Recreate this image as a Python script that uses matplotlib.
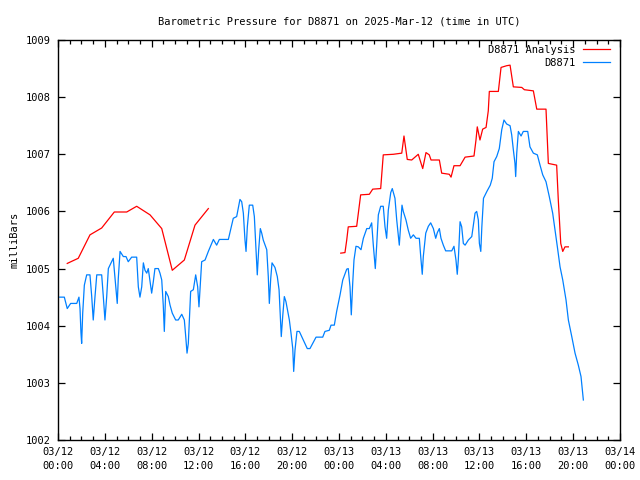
import matplotlib
matplotlib.use("Agg")
import matplotlib.pyplot as plt
from matplotlib.ticker import MultipleLocator

# hours since 2025-03-12 00:00 UTC, pressure in millibars
analysis_hours_1 = [0.79, 1.31, 1.73, 2.73, 3.73, 4.81, 5.87, 6.72, 7.86, 8.86,
                    9.76, 10.79, 11.70, 12.84]
analysis_mb_1 = [1005.09, 1005.14, 1005.18, 1005.59, 1005.71, 1005.99, 1005.99,
                 1006.09, 1005.94, 1005.70, 1004.97, 1005.15, 1005.76, 1006.05]

analysis_hours_2 = [24.15, 24.51, 24.66, 24.79, 25.51, 25.85, 26.59, 26.88, 27.56,
                    27.78, 28.64, 29.36, 29.55, 29.83, 30.21, 30.77, 30.92, 31.15,
                    31.43, 31.71, 31.86, 32.57, 32.77, 33.42, 33.57, 33.82, 34.34,
                    34.77, 35.53, 35.70, 35.81, 36.04, 36.27, 36.56, 36.75, 36.84,
                    37.61, 37.84, 38.32, 38.61, 38.89, 39.61, 39.83, 40.60, 40.89,
                    41.68, 41.88, 42.59, 42.73, 42.94, 43.11, 43.30, 43.59]
analysis_mb_2 = [1005.27, 1005.28, 1005.50, 1005.73, 1005.74, 1006.29, 1006.30,
                 1006.39, 1006.40, 1006.99, 1007.00, 1007.02, 1007.32, 1006.91,
                 1006.90, 1007.00, 1006.90, 1006.75, 1007.03, 1006.99, 1006.90,
                 1006.90, 1006.67, 1006.65, 1006.60, 1006.80, 1006.80, 1006.95,
                 1006.97, 1007.25, 1007.48, 1007.25, 1007.44, 1007.47, 1007.76,
                 1008.10, 1008.10, 1008.52, 1008.55, 1008.56, 1008.18, 1008.17,
                 1008.13, 1008.11, 1007.79, 1007.79, 1006.84, 1006.81, 1006.20,
                 1005.44, 1005.30, 1005.38, 1005.38]

station_hours = [0.15, 0.54, 0.79, 1.08, 1.60, 1.79, 1.88, 1.96, 2.02, 2.11, 2.25,
                 2.45, 2.73, 2.88, 3.01, 3.16, 3.31, 3.73, 3.87, 4.01, 4.16, 4.30,
                 4.44, 4.72, 4.87, 5.06, 5.15, 5.30, 5.58, 5.81, 6.00, 6.29, 6.72,
                 6.86, 7.00, 7.15, 7.29, 7.43, 7.58, 7.71, 7.86, 8.00, 8.14, 8.28,
                 8.57, 8.71, 8.86, 8.99, 9.08, 9.20, 9.42, 9.57, 9.76, 10.05, 10.27,
                 10.57, 10.79, 10.91, 11.02, 11.13, 11.21, 11.33, 11.56, 11.76,
                 11.93, 12.04, 12.27, 12.56, 12.84, 13.27, 13.55, 13.78, 14.55,
                 14.97, 15.26, 15.54, 15.69, 15.83, 15.97, 16.06, 16.17, 16.34,
                 16.63, 16.77, 16.91, 17.02, 17.14, 17.28, 17.40, 17.53, 17.83,
                 17.96, 18.05, 18.17, 18.28, 18.53, 18.73, 18.88, 18.96, 19.07,
                 19.19, 19.33, 19.47, 19.62, 19.76, 19.90, 20.05, 20.13, 20.24,
                 20.41, 20.61, 20.95, 21.29, 21.52, 22.04, 22.61, 22.80, 23.17,
                 23.32, 23.60, 23.80, 24.09, 24.32, 24.66, 24.79, 24.94, 25.05,
                 25.17, 25.28, 25.45, 25.65, 25.88, 26.08, 26.37, 26.59, 26.79,
                 26.93, 27.10, 27.22, 27.36, 27.56, 27.78, 27.93, 28.07, 28.21,
                 28.42, 28.55, 28.78, 28.93, 29.07, 29.15, 29.27, 29.38, 29.49,
                 29.72, 29.92, 30.12, 30.35, 30.58, 30.86, 30.98, 31.11, 31.20,
                 31.41, 31.63, 31.83, 32.06, 32.26, 32.40, 32.57, 32.71, 32.91,
                 33.11, 33.63, 33.82, 33.99, 34.10, 34.19, 34.34, 34.48, 34.62,
                 34.77, 35.05, 35.34, 35.62, 35.76, 35.90, 35.99, 36.11, 36.20,
                 36.34, 36.63, 36.92, 37.09, 37.24, 37.47, 37.69, 37.90, 38.09,
                 38.32, 38.61, 38.75, 38.89, 39.03, 39.09, 39.18, 39.32, 39.55,
                 39.74, 40.12, 40.31, 40.60, 40.94, 41.17, 41.40, 41.68, 41.96,
                 42.25, 42.45, 42.65, 42.88, 43.11, 43.39, 43.59, 43.88, 44.16,
                 44.44, 44.67, 44.87]
station_mb = [1004.50, 1004.50, 1004.30, 1004.39, 1004.39, 1004.50, 1004.30, 1003.88,
              1003.69, 1004.22, 1004.71, 1004.89, 1004.89, 1004.51, 1004.10, 1004.51,
              1004.89, 1004.89, 1004.51, 1004.10, 1004.51, 1005.00, 1005.06, 1005.18,
              1004.83, 1004.39, 1004.83, 1005.30, 1005.21, 1005.21, 1005.12, 1005.20,
              1005.20, 1004.68, 1004.50, 1004.68, 1005.10, 1004.97, 1004.92, 1005.00,
              1004.77, 1004.57, 1004.77, 1005.00, 1005.00, 1004.92, 1004.80, 1004.36,
              1003.90, 1004.60, 1004.51, 1004.36, 1004.22, 1004.10, 1004.10, 1004.20,
              1004.10, 1003.81, 1003.52, 1003.69, 1004.04, 1004.60, 1004.63, 1004.89,
              1004.68, 1004.33, 1005.12, 1005.15, 1005.30, 1005.51, 1005.41, 1005.51,
              1005.51, 1005.88, 1005.91, 1006.21, 1006.17, 1005.97, 1005.50, 1005.30,
              1005.73, 1006.11, 1006.11, 1005.91, 1005.35, 1004.89, 1005.33, 1005.70,
              1005.62, 1005.50, 1005.33, 1004.86, 1004.39, 1004.83, 1005.10, 1005.02,
              1004.86, 1004.63, 1004.30, 1003.81, 1004.16, 1004.51, 1004.42, 1004.25,
              1004.10, 1003.87, 1003.60, 1003.20, 1003.57, 1003.90, 1003.90, 1003.75,
              1003.60, 1003.60, 1003.80, 1003.80, 1003.90, 1003.92, 1004.01, 1004.01,
              1004.25, 1004.54, 1004.80, 1004.99, 1005.00, 1004.68, 1004.19, 1004.74,
              1005.15, 1005.39, 1005.38, 1005.33, 1005.53, 1005.70, 1005.70, 1005.80,
              1005.41, 1005.00, 1005.41, 1005.94, 1006.09, 1006.09, 1005.73, 1005.53,
              1006.02, 1006.33, 1006.40, 1006.23, 1005.85, 1005.56, 1005.41, 1005.79,
              1006.11, 1006.00, 1005.85, 1005.67, 1005.53, 1005.59, 1005.53, 1005.53,
              1005.21, 1004.90, 1005.21, 1005.62, 1005.74, 1005.80, 1005.70, 1005.53,
              1005.63, 1005.70, 1005.53, 1005.41, 1005.31, 1005.31, 1005.39, 1005.15,
              1004.90, 1005.15, 1005.82, 1005.73, 1005.44, 1005.41, 1005.50, 1005.56,
              1005.97, 1006.00, 1005.85, 1005.44, 1005.30, 1005.73, 1006.23, 1006.35,
              1006.46, 1006.58, 1006.87, 1006.96, 1007.10, 1007.43, 1007.60, 1007.53,
              1007.50, 1007.34, 1007.08, 1006.84, 1006.61, 1007.02, 1007.40, 1007.32,
              1007.40, 1007.40, 1007.13, 1007.02, 1006.99, 1006.81, 1006.64, 1006.52,
              1006.26, 1005.97, 1005.68, 1005.38, 1005.03, 1004.80, 1004.45, 1004.10,
              1003.81, 1003.52, 1003.31, 1003.11, 1002.70]

tick_hours = [0, 4, 8, 12, 16, 20, 24, 28, 32, 36, 40, 44, 48]
tick_labels = ["03/12\n00:00", "03/12\n04:00", "03/12\n08:00", "03/12\n12:00",
               "03/12\n16:00", "03/12\n20:00", "03/13\n00:00", "03/13\n04:00",
               "03/13\n08:00", "03/13\n12:00", "03/13\n16:00", "03/13\n20:00",
               "03/14\n00:00"]

RED = "#ff0000"
BLUE = "#0080ff"
FONT = "DejaVu Sans Mono"
FS = 7.5

plt.rcParams["font.family"] = FONT
plt.rcParams["font.size"] = FS

fig = plt.figure(figsize=(6.4, 4.8), dpi=100)
ax = fig.add_axes([58 / 640, 40 / 480, 562 / 640, 400 / 480])

ax.plot(analysis_hours_1, analysis_mb_1, color=RED, lw=0.9)
ax.plot(analysis_hours_2, analysis_mb_2, color=RED, lw=0.9)
ax.plot(station_hours, station_mb, color=BLUE, lw=0.9)

ax.set_xlim(0, 48)
ax.set_ylim(1002, 1009)
ax.set_xticks(tick_hours)
ax.set_xticklabels(tick_labels, linespacing=1.45)
ax.xaxis.set_minor_locator(MultipleLocator(1))
ax.set_yticks(range(1002, 1010))
ax.tick_params(axis="both", which="major", direction="in", length=5, width=0.9,
               top=True, right=True, labelsize=FS, pad=5)
ax.tick_params(axis="x", which="minor", direction="in", length=3, width=0.9,
               top=True, bottom=True)
for s in ax.spines.values():
    s.set_linewidth(1.0)

ax.set_ylabel("milliBars", fontsize=FS, labelpad=5)
ax.set_title("Barometric Pressure for D8871 on 2025-Mar-12 (time in UTC)",
             fontsize=FS, pad=11)

# gnuplot style key: right aligned text, sample to the right
for i, (lbl, col) in enumerate([("D8871 Analysis", RED), ("D8871", BLUE)]):
    yk = 0.975 - i * 0.0325
    ax.text(0.921, yk, lbl, transform=ax.transAxes, ha="right", va="center",
            fontsize=FS)
    ax.plot([0.934, 0.982], [yk + 0.003, yk + 0.003], transform=ax.transAxes,
            color=col, lw=0.9)

fig.savefig("out.png", dpi=100)
